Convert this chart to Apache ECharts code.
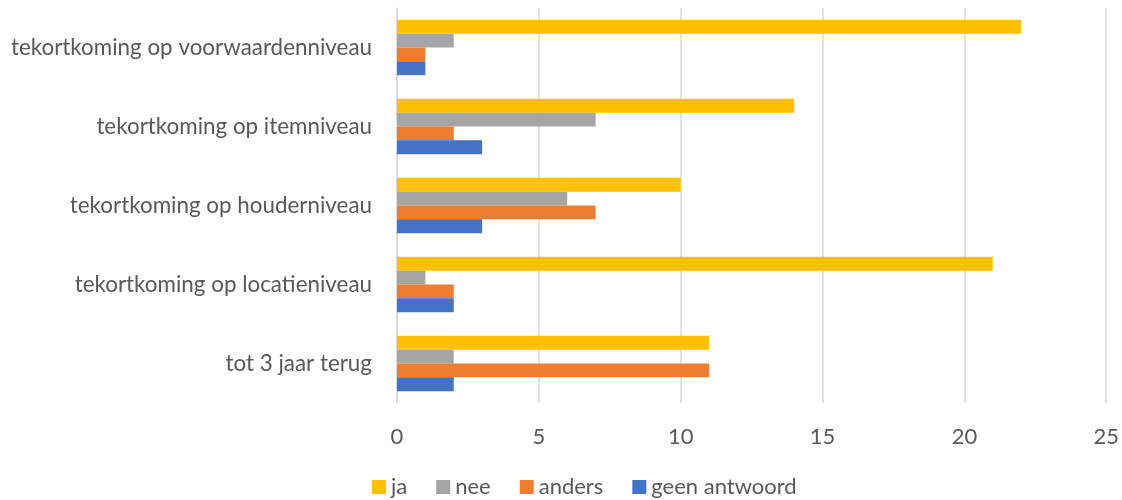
<!DOCTYPE html>
<html>
<head>
<meta charset="utf-8">
<script src="https://cdn.jsdelivr.net/npm/echarts@6/dist/echarts.min.js"></script>
<style>
  html, body { margin: 0; padding: 0; background: #fff; }
  #chart-container { width: 1122px; height: 500px; }
</style>
</head>
<body>
<div id="chart-container"></div>
<script>
var categories = [
  "tot 3 jaar terug",
  "tekortkoming op locatieniveau",
  "tekortkoming op houderniveau",
  "tekortkoming op itemniveau",
  "tekortkoming op voorwaardenniveau",
];
var ja = [11, 21, 10, 14, 22];
var nee = [2, 1, 6, 7, 2];
var anders = [11, 2, 7, 2, 1];
var geenAntwoord = [2, 2, 3, 3, 1];

var dom = document.getElementById("chart-container");
var myChart = echarts.init(dom, null, { renderer: "canvas" });

var font = "Lato, sans-serif";
var textColor = "#595959";

function bar(name, data, color) {
  return {
    name: name,
    type: "bar",
    data: data,
    barGap: "0%",
    barCategoryGap: "30%",
    itemStyle: { color: color },
  };
}

var option = {
  animation: false,
  textStyle: { fontFamily: font },
  grid: { left: 397, right: 15, top: 8, bottom: 97, containLabel: false },
  legend: {
    data: ["ja", "nee", "anders", "geen antwoord"],
    bottom: -3,
    left: 367,
    itemWidth: 14,
    itemHeight: 14,
    itemGap: 29,
    icon: "rect",
    textStyle: { color: textColor, fontSize: 22, fontFamily: font },
  },
  xAxis: {
    type: "value",
    min: 0,
    max: 25,
    interval: 5,
    axisLine: { show: false },
    axisTick: { show: false },
    splitLine: { lineStyle: { color: "#d9d9d9", width: 1.5 } },
    axisLabel: { color: textColor, fontSize: 22, margin: 23 },
  },
  yAxis: {
    type: "category",
    data: categories,
    axisLine: { show: true, lineStyle: { color: "#d9d9d9", width: 1.5 } },
    axisTick: { show: false },
    axisLabel: { color: textColor, fontSize: 22.4, margin: 25 },
  },
  series: [
    bar("ja", ja, "#FFC000"),
    bar("nee", nee, "#A5A5A5"),
    bar("anders", anders, "#ED7D31"),
    bar("geen antwoord", geenAntwoord, "#4472C4"),
  ],
};

myChart.setOption(option);
window.addEventListener("resize", myChart.resize);
</script>
</body>
</html>
